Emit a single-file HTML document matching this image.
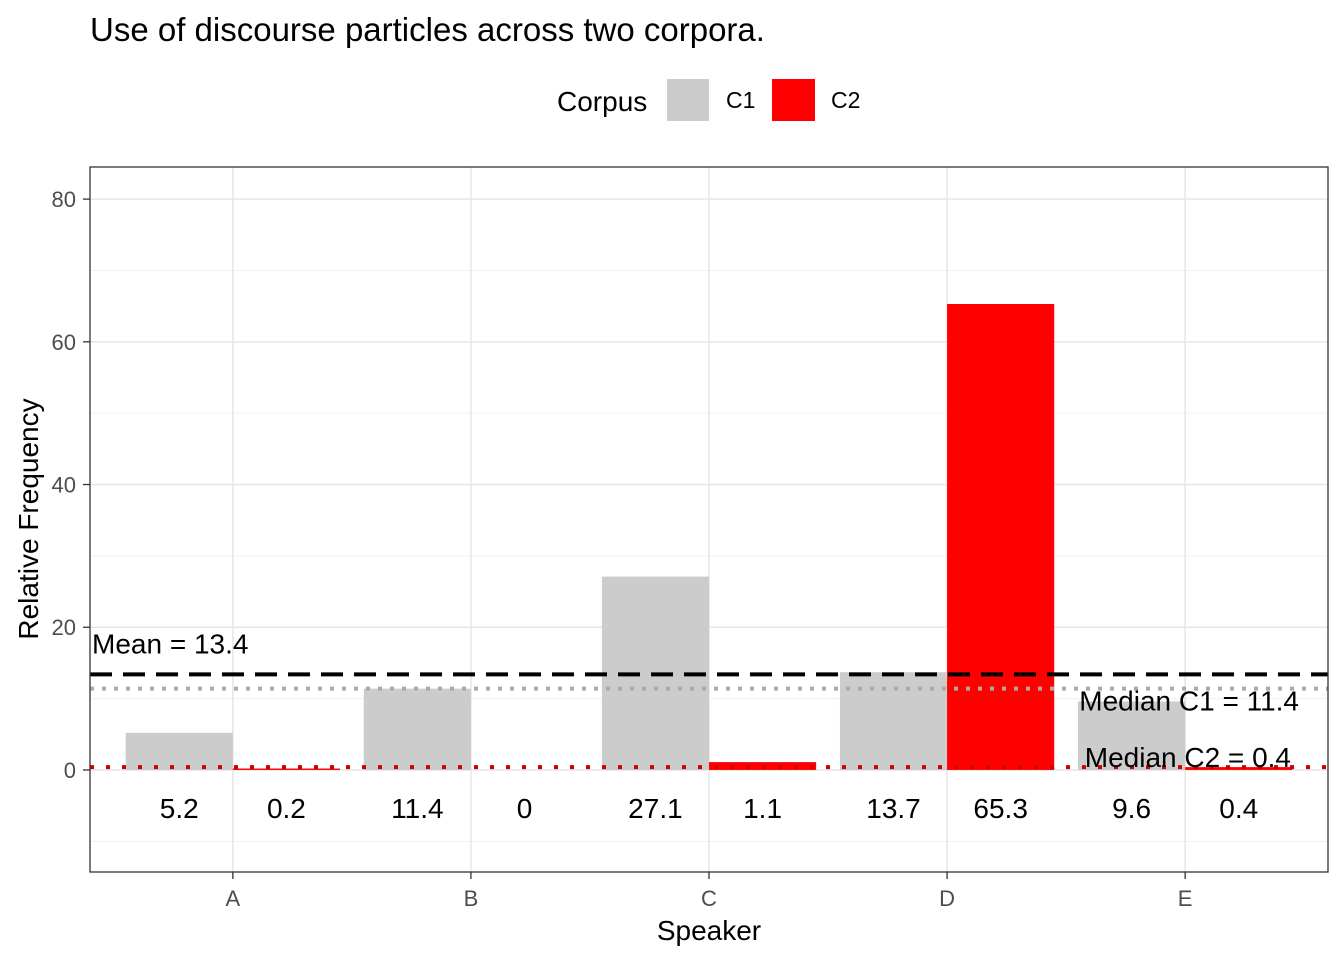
<!DOCTYPE html>
<html><head><meta charset="utf-8"><style>
body{margin:0;background:#fff;}
svg text{font-family:"Liberation Sans",sans-serif;}
</style></head><body>
<svg id="chart" width="1344" height="960" xmlns="http://www.w3.org/2000/svg">
<text x="90" y="41" font-size="33" fill="#000">Use of discourse particles across two corpora.</text>
<g>
<text x="557" y="111" font-size="28" fill="#000">Corpus</text>
<rect x="667" y="79" width="42" height="42" fill="#cccccc"/>
<text x="726" y="108" font-size="23" fill="#000">C1</text>
<rect x="772" y="79" width="43" height="42" fill="#ff0000"/>
<text x="831" y="108" font-size="23" fill="#000">C2</text>
</g>
<g id="grid"></g>
<g id="bars"></g>
<g id="lines"></g>
<g id="labels"></g>
<rect x="90" y="167" width="1238" height="705" fill="none" stroke="#333" stroke-width="1.3"/>
<g id="axes"></g>
<text x="709" y="940" font-size="28" text-anchor="middle" fill="#000">Speaker</text>
<text transform="translate(38,519) rotate(-90)" font-size="28" text-anchor="middle" fill="#000">Relative Frequency</text>
</svg>
<script>
const speakers = ["A","B","C","D","E"];
const c1Values = [5.2, 11.4, 27.1, 13.7, 9.6];
const c2Values = [0.2, 0, 1.1, 65.3, 0.4];
const yTicks = [0, 20, 40, 60, 80];
const yMinor = [-10, 10, 30, 50, 70];
const meanValue = 13.4;
const medianC1 = 11.4;
const medianC2 = 0.4;
const labelY = -5.3;

const NS = "http://www.w3.org/2000/svg";
const px0 = 90, px1 = 1328, py0 = 167, py1 = 872;
const yMin = -14.3, yMax = 84.5;
const y = v => py1 - (v - yMin) / (yMax - yMin) * (py1 - py0);
const xMin = 0.4, xMax = 5.6;
const x = i => px0 + ((i + 1) - xMin) / (xMax - xMin) * (px1 - px0);
const step = (px1 - px0) / (xMax - xMin);
const bw = step * 0.45;
function mk(tag, attrs, parent, text){
  const e = document.createElementNS(NS, tag);
  for (const k in attrs) e.setAttribute(k, attrs[k]);
  if (text !== undefined) e.textContent = text;
  document.getElementById(parent).appendChild(e);
  return e;
}
yMinor.forEach(v => {
  const e = mk("line", {x1:px0, x2:px1, y1:y(v), y2:y(v), stroke:"#f0f0f0", "stroke-width":1}, "grid");
  
  
});
yTicks.forEach(v => {
  const e = mk("line", {x1:px0, x2:px1, y1:y(v), y2:y(v), stroke:"#e6e6e6", "stroke-width":1.5}, "grid");
  
  
  const t = mk("line", {x1:px0-7, x2:px0, y1:y(v), y2:y(v), stroke:"#333", "stroke-width":1.3}, "axes");
  
  
  const l = mk("text", {x:px0-14, y:y(v)+8, "font-size":22, "text-anchor":"end", fill:"#4d4d4d"}, "axes", String(v));
  
  
});
speakers.forEach((s, i) => {
  const g = mk("line", {x1:x(i), x2:x(i), y1:py0, y2:py1, stroke:"#e6e6e6", "stroke-width":1.5}, "grid");
  
  
  const t = mk("line", {x1:x(i), x2:x(i), y1:py1, y2:py1+7, stroke:"#333", "stroke-width":1.3}, "axes");
  
  
  const l = mk("text", {x:x(i), y:py1+34, "font-size":22, "text-anchor":"middle", fill:"#4d4d4d"}, "axes", s);
  
  
  const b1 = mk("rect", {x:x(i)-bw, y:y(Math.max(c1Values[i],0)), width:bw, height:Math.abs(y(0)-y(c1Values[i])), fill:"#cccccc"}, "bars");
  
  
  const b2 = mk("rect", {x:x(i), y:y(Math.max(c2Values[i],0)), width:bw, height:Math.abs(y(0)-y(c2Values[i])), fill:"#ff0000"}, "bars");
  
  
  const t1 = mk("text", {x:x(i)-bw/2, y:y(labelY)+10, "font-size":28, "text-anchor":"middle", fill:"#000"}, "labels", String(c1Values[i]));
  
  
  const t2 = mk("text", {x:x(i)+bw/2, y:y(labelY)+10, "font-size":28, "text-anchor":"middle", fill:"#000"}, "labels", String(c2Values[i]));
  
  
});
const m1 = mk("line", {x1:px0, x2:px1, y1:y(medianC1), y2:y(medianC1), stroke:"#aaaaaa", "stroke-width":4, "stroke-dasharray":"4 8"}, "lines");


const m2 = mk("line", {x1:px0, x2:px1, y1:y(medianC2), y2:y(medianC2), stroke:"#cc0000", "stroke-width":4, "stroke-dasharray":"4 12"}, "lines");


const mn = mk("line", {x1:px0, x2:px1, y1:y(meanValue), y2:y(meanValue), stroke:"#000", "stroke-width":4, "stroke-dasharray":"22 11"}, "lines");


const a1 = mk("text", {x:92, y:y(meanValue)-21, "font-size":28, fill:"#000"}, "labels", "Mean = " + meanValue);


const a2 = mk("text", {x:1299, y:y(medianC1)+22, "font-size":28, "text-anchor":"end", fill:"#000"}, "labels", "Median C1 = " + medianC1);


const a3 = mk("text", {x:1291, y:y(medianC2)-0, "font-size":28, "text-anchor":"end", fill:"#000"}, "labels", "Median C2 = " + medianC2);


</script>
</body></html>
